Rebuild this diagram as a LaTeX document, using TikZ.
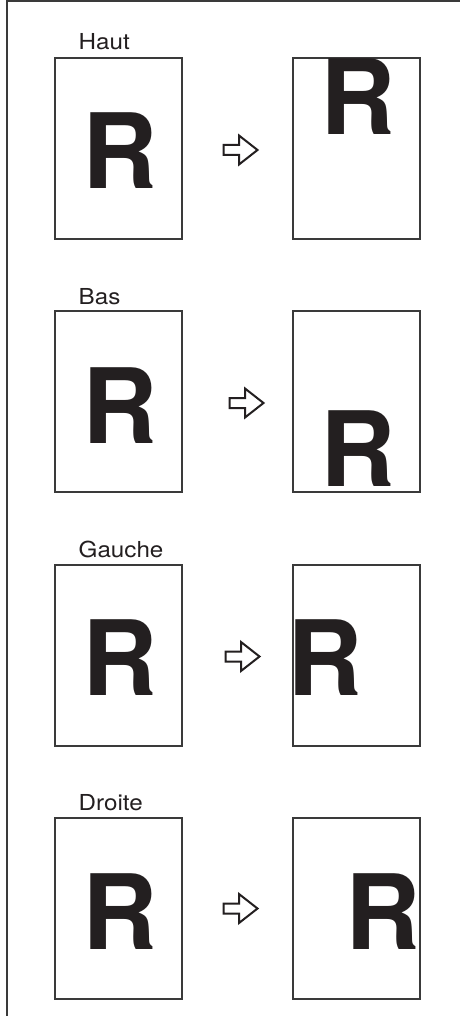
\documentclass[tikz,border=0pt]{standalone}
\usepackage{fontspec}
\setmainfont{TeX Gyre Heros}
\usepackage{graphicx}
\definecolor{ink}{HTML}{231F20}
\definecolor{edge}{HTML}{3A3A3A}
\tikzset{
  x=1pt, y=-1pt,
  page/.style={draw=edge, line width=1.2pt, minimum width=127pt, minimum height=181pt, inner sep=0pt, fill=white},
  rglyph/.style={inner sep=0pt, outer sep=0pt, text=ink, font=\fontsize{104}{104}\selectfont\bfseries, anchor=base},
  lbl/.style={inner sep=0pt, text=ink, font=\fontsize{22}{22}\selectfont, anchor=base west},
  frameline/.style={draw=edge, line width=1.5pt},
  arrowline/.style={draw=ink, line width=2pt, line join=miter, fill=white},
  hollowarrow/.pic={\draw[arrowline] (-17,-5) -- (-1.5,-5) -- (-1.5,-14.5) -- (17,0) -- (-1.5,14.5) -- (-1.5,5) -- (-17,5) -- cycle;}
}
\begin{document}
\begin{tikzpicture}
\useasboundingbox (0,0) rectangle (459,1016);
\fill[white] (0,0) rectangle (459,1016);
\draw[frameline] (7,1017) -- (7,1) -- (460,1);

% Panel 1: Haut
\node[lbl] (l1) at (78.5,50) {\scalebox{1.1}[1]{Haut}};
\node[page] (p1a) at (118.5,148.5) {};
\node[page] (p1b) at (356.5,148.5) {};
\node[rglyph] (r1a) at (120,189) {R};
\node[rglyph] (r1b) at (358,135) {R};
\pic at (240.5,150) {hollowarrow};

% Panel 2: Bas
\node[lbl] (l2) at (78.5,304) {\scalebox{1.1}[1]{Bas}};
\node[page] (p2a) at (118.5,401.5) {};
\node[page] (p2b) at (356.5,401.5) {};
\node[rglyph] (r2a) at (120,443) {R};
\node[rglyph] (r2b) at (358,486) {R};
\pic at (246.5,403) {hollowarrow};

% Panel 3: Gauche
\node[lbl] (l3) at (78.5,557) {\scalebox{1.1}[1]{Gauche}};
\node[page] (p3a) at (118.5,655.5) {};
\node[page] (p3b) at (356.5,655.5) {};
\node[rglyph] (r3a) at (120,695) {R};
\node[rglyph] (r3b) at (325.5,695) {R};
\pic at (242.5,656.5) {hollowarrow};

% Panel 4: Droite
\node[lbl] (l4) at (78.5,810) {\scalebox{1.1}[1]{Droite}};
\node[page] (p4a) at (118.5,908.5) {};
\node[page] (p4b) at (356.5,908.5) {};
\node[rglyph] (r4a) at (120,949) {R};
\node[rglyph] (r4b) at (383.5,949) {R};
\pic at (240.5,908.5) {hollowarrow};
\end{tikzpicture}
\end{document}
